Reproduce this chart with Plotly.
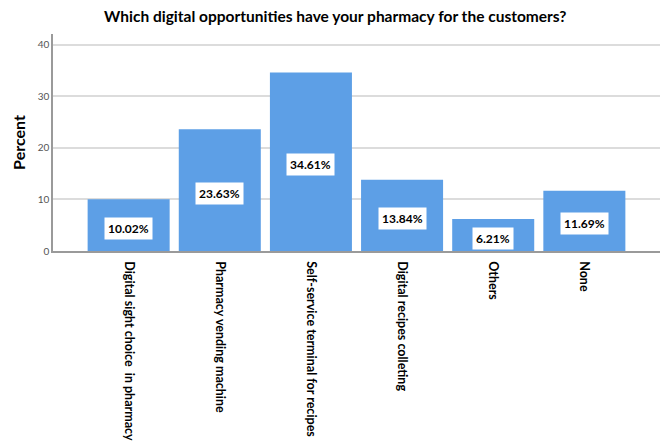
import plotly.graph_objects as go

categories = [
    "Digital sight choice  in pharmacy",
    "Pharmacy vending machine",
    "Self-service terminal for recipes",
    "Digital recipes colleting",
    "Others",
    "None",
]
percent = [10.02, 23.63, 34.61, 13.84, 6.21, 11.69]
y_ticks = [0, 10, 20, 30, 40]

BAR_COLOR = "#5d9fe6"
FONT = "Lato"

fig = go.Figure(
    go.Bar(
        x=categories,
        y=percent,
        marker=dict(color=BAR_COLOR, line=dict(width=0)),
        hoverinfo="skip",
    )
)

# value labels in white boxes centred on each bar
for cat, val in zip(categories, percent):
    fig.add_annotation(
        x=cat,
        y=val / 2,
        yshift=-3,
        text=f"<b>{val:.2f}%</b>",
        showarrow=False,
        bgcolor="white",
        borderpad=3,
        font=dict(family=FONT, size=12, color="black"),
    )

fig.update_layout(
    width=664,
    height=445,
    margin=dict(l=53, r=4, t=34, b=194),
    paper_bgcolor="white",
    plot_bgcolor="white",
    bargap=0.1,
    showlegend=False,
    title=dict(
        text="<b>Which digital opportunities have your pharmacy for the customers?</b>",
        x=0.505,
        xanchor="center",
        y=0.962,
        yanchor="middle",
        font=dict(family=FONT, size=15.5, color="black"),
    ),
    xaxis=dict(
        tickangle=90,
        tickfont=dict(family=FONT, size=12.5, color="black", weight="bold"),
        ticklabelstandoff=6,
        automargin=False,
        showline=True,
        linecolor="#9a9a9a",
        linewidth=1.5,
        showgrid=False,
        ticks="",
        range=[-0.83, 5.83],
    ),
    yaxis=dict(
        title=dict(text="<b>Percent</b>", font=dict(family=FONT, size=16, color="black"), standoff=8),
        range=[0, 42.1],
        tickvals=y_ticks,
        tickfont=dict(family=FONT, size=10, color="#555555"),
        showline=True,
        linecolor="#9a9a9a",
        linewidth=1.5,
        showgrid=True,
        gridcolor="#dcdcdc",
        gridwidth=1.5,
        zeroline=False,
        ticks="",
    ),
)

fig.write_html("out.html")
